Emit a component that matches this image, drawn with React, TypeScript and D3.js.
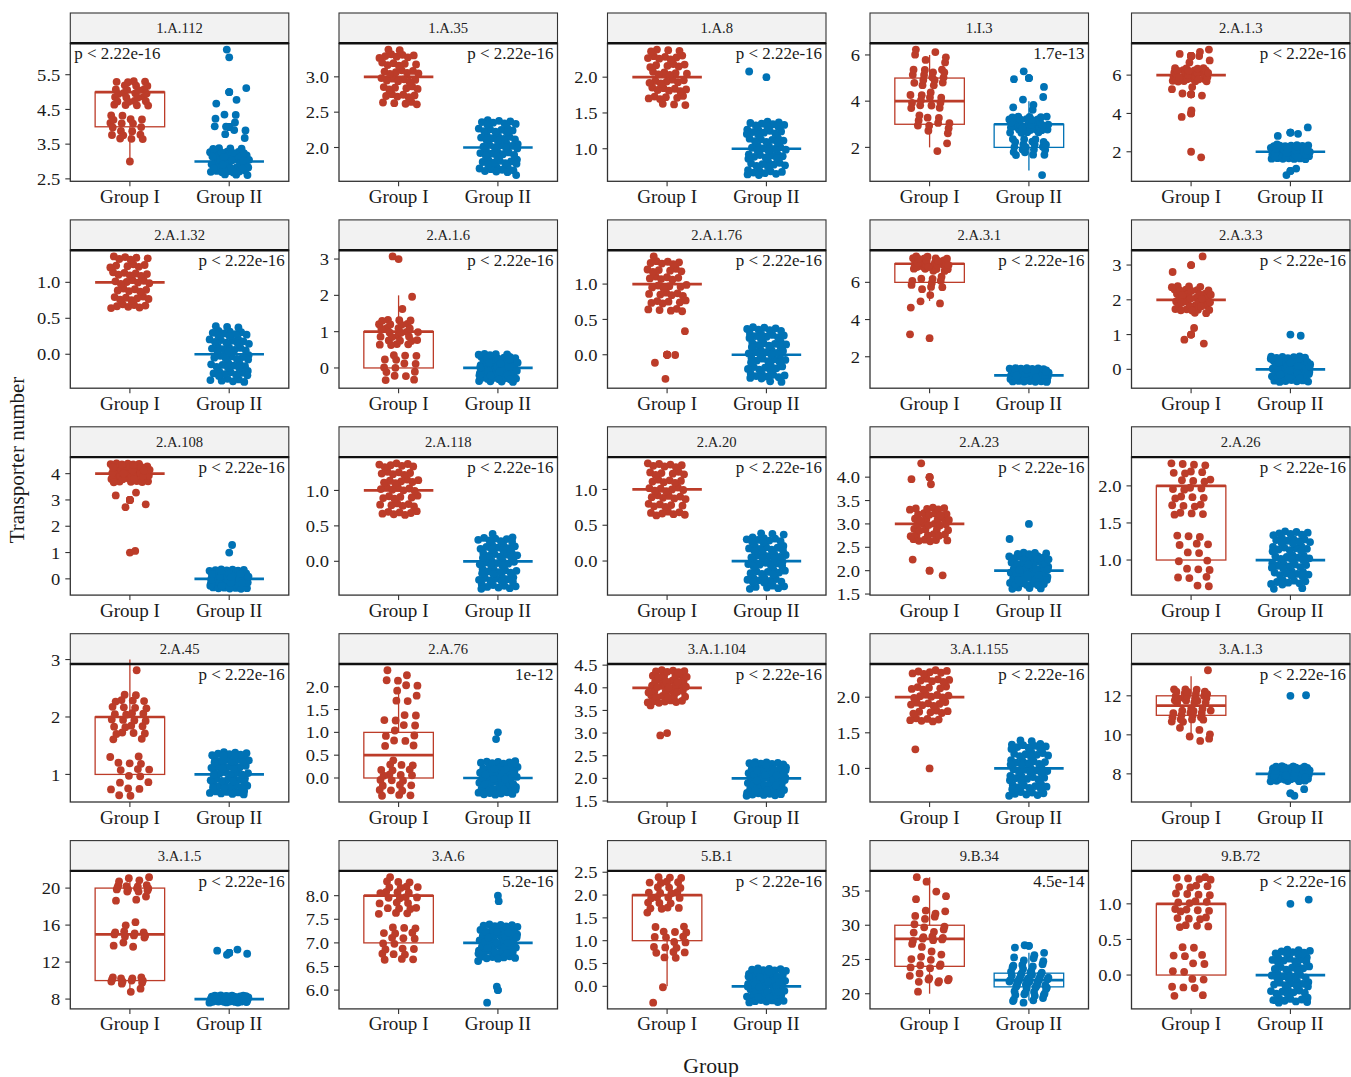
import React from "react";
import * as d3 from "d3";

// ---------------- DATA ----------------
const groups = ["Group I", "Group II"];
const groupColors = ["#BC3C29", "#0072B5"];

const panelNames = [
  "1.A.112", "1.A.35", "1.A.8", "1.I.3", "2.A.1.3",
  "2.A.1.32", "2.A.1.6", "2.A.1.76", "2.A.3.1", "2.A.3.3",
  "2.A.108", "2.A.118", "2.A.20", "2.A.23", "2.A.26",
  "2.A.45", "2.A.76", "3.A.1.104", "3.A.1.155", "3.A.1.3",
  "3.A.1.5", "3.A.6", "5.B.1", "9.B.34", "9.B.72",
];

const pLabels = [
  "p < 2.22e-16", "p < 2.22e-16", "p < 2.22e-16", "1.7e-13", "p < 2.22e-16",
  "p < 2.22e-16", "p < 2.22e-16", "p < 2.22e-16", "p < 2.22e-16", "p < 2.22e-16",
  "p < 2.22e-16", "p < 2.22e-16", "p < 2.22e-16", "p < 2.22e-16", "p < 2.22e-16",
  "p < 2.22e-16", "1e-12", "p < 2.22e-16", "p < 2.22e-16", "p < 2.22e-16",
  "p < 2.22e-16", "5.2e-16", "p < 2.22e-16", "4.5e-14", "p < 2.22e-16",
];
const leftLabelPanels = ["1.A.112"];

const tickLabels: string[][] = [
  ["2.5", "3.5", "4.5", "5.5"],
  ["2.0", "2.5", "3.0"],
  ["1.0", "1.5", "2.0"],
  ["2", "4", "6"],
  ["2", "4", "6"],
  ["0.0", "0.5", "1.0"],
  ["0", "1", "2", "3"],
  ["0.0", "0.5", "1.0"],
  ["2", "4", "6"],
  ["0", "1", "2", "3"],
  ["0", "1", "2", "3", "4"],
  ["0.0", "0.5", "1.0"],
  ["0.0", "0.5", "1.0"],
  ["1.5", "2.0", "2.5", "3.0", "3.5", "4.0"],
  ["1.0", "1.5", "2.0"],
  ["1", "2", "3"],
  ["0.0", "0.5", "1.0", "1.5", "2.0"],
  ["1.5", "2.0", "2.5", "3.0", "3.5", "4.0", "4.5"],
  ["1.0", "1.5", "2.0"],
  ["8", "10", "12"],
  ["8", "12", "16", "20"],
  ["6.0", "6.5", "7.0", "7.5", "8.0"],
  ["0.0", "0.5", "1.0", "1.5", "2.0", "2.5"],
  ["20", "25", "30", "35"],
  ["0.0", "0.5", "1.0"],
];

// [transporter number, number of genomes]
const groupICounts: [number, number][][] = [
  [[3, 1], [4, 18], [5, 27]],
  [[3, 46]],
  [[2, 46]],
  [[2, 2], [3, 11], [4, 12], [5, 15], [6, 6]],
  [[2, 1], [4, 2], [5, 4], [6, 33], [7, 6]],
  [[1, 46]],
  [[0, 15], [1, 28], [2, 2], [3, 1]],
  [[0, 4], [1, 42]],
  [[3, 1], [5, 4], [6, 10], [7, 31]],
  [[1, 3], [2, 41], [3, 2]],
  [[1, 1], [3, 4], [4, 41]],
  [[1, 46]],
  [[1, 46]],
  [[2, 2], [3, 41], [4, 3]],
  [[1, 18], [2, 28]],
  [[1, 17], [2, 28], [3, 1]],
  [[0, 23], [1, 13], [2, 10]],
  [[3, 1], [4, 45]],
  [[1, 1], [2, 45]],
  [[10, 6], [11, 17], [12, 22], [13, 1]],
  [[9, 2], [10, 11], [14, 3], [15, 9], [16, 2], [19, 3], [20, 12], [21, 4]],
  [[7, 20], [8, 26]],
  [[0, 2], [1, 18], [2, 26]],
  [[20, 1], [22, 7], [23, 2], [24, 5], [25, 3], [26, 2], [27, 2], [28, 7], [29, 3], [30, 3], [31, 3], [32, 3], [34, 2], [35, 1], [36, 1], [37, 1]],
  [[0, 16], [1, 30]],
];

const groupIICounts: [number, number][][] = [
  [[3, 48], [4, 10], [5, 3], [6, 1]],
  [[2, 62]],
  [[1, 61], [2, 1]],
  [[1, 1], [2, 20], [3, 33], [4, 5], [5, 3]],
  [[1, 2], [2, 57], [3, 3]],
  [[0, 62]],
  [[0, 62]],
  [[0, 62]],
  [[1, 62]],
  [[0, 61], [1, 1]],
  [[0, 61], [1, 1]],
  [[0, 62]],
  [[0, 62]],
  [[2, 61], [3, 1]],
  [[1, 62]],
  [[1, 62]],
  [[0, 61], [1, 1]],
  [[2, 62]],
  [[1, 62]],
  [[7, 2], [8, 59], [12, 1]],
  [[8, 58], [13, 4]],
  [[6, 2], [7, 59], [8, 1]],
  [[0, 62]],
  [[19, 5], [20, 8], [21, 10], [22, 15], [23, 10], [24, 6], [25, 4], [26, 2], [27, 2]],
  [[0, 61], [1, 1]],
];

// ---------------- LAYOUT ----------------
const W = 1351;
const H = 1077;
const colLeft = [70.3, 339, 607.5, 870, 1131.5];
const panelW = 218.5;
const stripTop0 = 13;
const rowStep = 206.9;
const stripH = 30.3;
const panelH = 138;
const SX = 1.06; // horizontal text stretch of the reference
const FONT = "'Liberation Serif', 'Times New Roman', Times, serif";
const JITTER_W = 0.2;
const JITTER_H = 0.4;
const BOX_W = 0.7;
const R = 3.9;

const frac = (v: number) => v - Math.floor(v);

function expand(counts: [number, number][]): number[] {
  const out: number[] = [];
  counts.forEach(([v, c]) => {
    for (let i = 0; i < c; i++) out.push(v);
  });
  return out;
}

function boxStats(values: number[]) {
  const s = values.slice().sort((a, b) => a - b);
  const q1 = d3.quantile(s, 0.25) as number;
  const med = d3.quantile(s, 0.5) as number;
  const q3 = d3.quantile(s, 0.75) as number;
  const iqr = q3 - q1;
  const lo = q1 - 1.5 * iqr;
  const hi = q3 + 1.5 * iqr;
  const inside = s.filter((v) => v >= lo && v <= hi);
  const wLo = d3.min(inside) as number;
  const wHi = d3.max(inside) as number;
  const outliers = s.filter((v) => v < lo || v > hi);
  return { q1, med, q3, wLo, wHi, outliers };
}

function SText(props: {
  x: number; y: number; size: number; anchor?: string; children: React.ReactNode;
  fill?: string; dy?: string;
}) {
  const { x, y, size, anchor = "middle", children, fill = "#1a1a1a", dy } = props;
  return (
    <text
      transform={`translate(${x},${y}) scale(${SX},1)`}
      textAnchor={anchor as any}
      fontSize={size}
      fontFamily={FONT}
      fill={fill}
      dy={dy}
    >
      {children}
    </text>
  );
}

function Panel({ idx }: { idx: number }) {
  const col = idx % 5;
  const row = Math.floor(idx / 5);
  const x0 = colLeft[col];
  const sTop = stripTop0 + row * rowStep;
  const y0 = sTop + stripH;
  const y1 = y0 + panelH;

  const x = d3.scalePoint<string>().domain(groups).range([x0, x0 + panelW]).padding(0.6);
  const step = x.step();

  const data = [groupICounts[idx], groupIICounts[idx]].map((counts, g) => {
    const vals = expand(counts);
    const pts = vals.map((v, k) => {
      const s = k + idx * 13 + g * 29;
      const dx = (frac(0.5 + s * 0.7548776662) - 0.5) * 2 * JITTER_W;
      const dy = (frac(0.5 + s * 0.569840291) - 0.5) * 2 * JITTER_H * 0.98;
      return { v, dx, yv: v + dy };
    });
    return { vals, pts, stats: boxStats(vals) };
  });

  const allY: number[] = [];
  data.forEach((d) => {
    d.pts.forEach((p) => allY.push(p.yv));
    d.stats.outliers.forEach((o) => allY.push(o));
  });
  const [mn, mx] = d3.extent(allY) as [number, number];
  const pad = (mx - mn) * 0.05;
  const y = d3.scaleLinear().domain([mn - pad, mx + pad]).range([y1, y0]);

  const ticks = tickLabels[idx];
  const isLeft = leftLabelPanels.includes(panelNames[idx]);

  return (
    <g>
      {/* strip */}
      <rect x={x0} y={sTop} width={panelW} height={stripH} fill="#F2F2F2" stroke="#333" strokeWidth={1.1} />
      <SText x={x0 + panelW / 2} y={sTop + stripH / 2} size={13.8} dy="0.35em" fill="#222">
        {panelNames[idx]}
      </SText>
      {/* panel background */}
      <rect x={x0} y={y0} width={panelW} height={panelH} fill="#fff" />

      {/* y axis */}
      {ticks.map((t) => {
        const v = +t;
        return (
          <g key={t}>
            <line x1={x0 - 5} x2={x0} y1={y(v)} y2={y(v)} stroke="#333" strokeWidth={1.1} />
            <SText x={x0 - 10} y={y(v)} size={17.5} anchor="end" dy="0.35em">
              {t}
            </SText>
          </g>
        );
      })}
      {/* x axis */}
      {groups.map((gname) => (
        <g key={gname}>
          <line x1={x(gname)!} x2={x(gname)!} y1={y1} y2={y1 + 5} stroke="#333" strokeWidth={1.1} />
          <SText x={x(gname)!} y={y1 + 21.5} size={18}>
            {gname}
          </SText>
        </g>
      ))}

      {/* boxes */}
      {data.map((d, g) => {
        const cx = x(groups[g])!;
        const hw = (BOX_W * step) / 2;
        const c = groupColors[g];
        const st = d.stats;
        return (
          <g key={"box" + g}>
            {st.wHi > st.q3 && (
              <line x1={cx} x2={cx} y1={y(st.q3)} y2={y(st.wHi)} stroke={c} strokeWidth={1.3} />
            )}
            {st.wLo < st.q1 && (
              <line x1={cx} x2={cx} y1={y(st.q1)} y2={y(st.wLo)} stroke={c} strokeWidth={1.3} />
            )}
            {st.q3 > st.q1 && (
              <rect
                x={cx - hw}
                y={y(st.q3)}
                width={2 * hw}
                height={y(st.q1) - y(st.q3)}
                fill="none"
                stroke={c}
                strokeWidth={1.3}
              />
            )}
            <line x1={cx - hw} x2={cx + hw} y1={y(st.med)} y2={y(st.med)} stroke={c} strokeWidth={2.7} />
            {st.outliers.map((o, i) => (
              <circle key={i} cx={cx} cy={y(o)} r={R} fill={c} />
            ))}
          </g>
        );
      })}

      {/* jittered points */}
      {data.map((d, g) => {
        const cx = x(groups[g])!;
        return (
          <g key={"pts" + g} fill={groupColors[g]}>
            {d.pts.map((p, i) => (
              <circle key={i} cx={cx + p.dx * step} cy={y(p.yv)} r={R} />
            ))}
          </g>
        );
      })}

      {/* p label */}
      <SText
        x={isLeft ? x0 + 4 : x0 + panelW - 4}
        y={y0 + 16}
        size={16}
        anchor={isLeft ? "start" : "end"}
      >
        {pLabels[idx]}
      </SText>

      {/* borders */}
      <rect x={x0} y={y0} width={panelW} height={panelH} fill="none" stroke="#333" strokeWidth={1.3} />
      <line x1={x0} x2={x0 + panelW} y1={y0} y2={y0} stroke="#111" strokeWidth={2.4} />
    </g>
  );
}

export default function App() {
  return (
    <svg
      width={W}
      height={H}
      viewBox={`0 0 ${W} ${H}`}
      style={{ position: "absolute", left: 0, top: 0, background: "#fff" }}
    >
      <rect x={0} y={0} width={W} height={H} fill="#fff" />
      {panelNames.map((_, i) => (
        <Panel key={i} idx={i} />
      ))}
      <text
        transform="translate(24,460) rotate(-90)"
        textAnchor="middle"
        fontSize={21}
        fontFamily={FONT}
        fill="#1a1a1a"
      >
        Transporter number
      </text>
      <SText x={711} y={1073} size={20.5}>
        Group
      </SText>
    </svg>
  );
}
